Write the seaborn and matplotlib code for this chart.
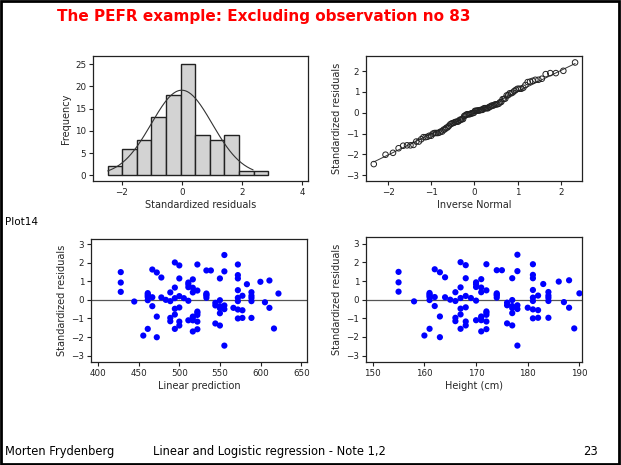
import numpy as np
import pandas as pd
import matplotlib
matplotlib.use("Agg")
import matplotlib.pyplot as plt
import seaborn as sns
from statistics import NormalDist

# Histogram of standardized residuals (bin edges and counts)
bin_edges = [-2.46, -1.975, -1.49, -1.005, -0.52, -0.035, 0.45, 0.935, 1.42, 1.905, 2.39, 2.875]
bin_counts = [2, 6, 8, 13, 18, 25, 9, 8, 9, 1, 1]

# Heights and the fitted linear prediction for each height
height_levels = [155, 158, 160, 161, 162, 163, 164, 165, 166, 167, 168, 169, 170, 171, 172,
                 174, 175, 176, 177, 178, 180, 181, 182, 183, 184, 186, 187, 188, 189, 190]
linpred_levels = [428.0, 444.6, 455.7, 461.2, 466.8, 472.3, 477.9, 483.4, 488.9, 494.5, 500.0,
                  505.6, 511.1, 516.6, 522.2, 533.3, 538.8, 544.3, 549.9, 555.4, 566.5, 572.0,
                  577.6, 583.1, 588.7, 599.7, 605.3, 610.8, 616.4, 621.9]

# Standardized residuals, per height
resid_levels = [
    [1.49, 0.93, 0.43],
    [-0.09],
    [-1.92],
    [0.36, 0.29, 0.22, 0.14, -0.02, -1.56],
    [1.63, 0.14, -0.34],
    [1.47, -0.90, -2.01],
    [1.20, 0.13],
    [0.00],
    [0.40, -0.07, -0.97, -1.15],
    [2.01, 0.66, 0.09, -0.48, -0.79, -1.56],
    [1.85, 1.15, 0.20, -0.41, -1.17, -1.38],
    [0.09],
    [0.93, 0.83, 0.68, -0.05, -1.10],
    [1.10, 0.65, 0.40, -0.90, -0.95, -1.10, -1.70],
    [1.90, 0.50, -0.63, -0.70, -0.81, -1.17, -1.58],
    [1.58, 0.34, 0.28, 0.22, 0.11],
    [1.58],
    [-0.16, -0.30, -1.27],
    [1.15, -0.02, -0.34, -0.45, -0.72, -1.38],
    [2.41, 1.53, -0.30, -0.50, -2.46],
    [-0.43],
    [1.90, 1.33, 1.15, 0.52, 0.11, -0.07, -0.52, -1.00],
    [0.22, -0.56, -0.97],
    [0.84],
    [0.41, 0.22, 0.10, -0.07, -0.97],
    [0.97],
    [-0.13],
    [1.04, -0.43],
    [-1.54],
    [0.34],
]

rows = []
for h, p, rs in zip(height_levels, linpred_levels, resid_levels):
    for r in rs:
        rows.append({"height": h, "linpred": p, "resid": r})
df = pd.DataFrame(rows)

sns.set_style("white")
plt.rcParams["font.family"] = ["DejaVu Sans"]
plt.rcParams["text.color"] = "#333333"

W, H = 621, 465
fig = plt.figure(figsize=(W / 100, H / 100), dpi=100)

def ax_px(x0, y0, x1, y1):
    return fig.add_axes([x0 / W, 1 - y1 / H, (x1 - x0) / W, (y1 - y0) / H])

def style(ax):
    for s in ax.spines.values():
        s.set_linewidth(0.9)
        s.set_color("#222222")
    ax.tick_params(axis="both", which="both", direction="out", length=3, width=0.8,
                   labelsize=6.3, pad=2, left=True, bottom=True, colors="#222222")
    ax.xaxis.label.set_size(7)
    ax.yaxis.label.set_size(7)
    ax.xaxis.labelpad = 2
    ax.yaxis.labelpad = 3

# --- histogram ---
ax1 = ax_px(93, 56, 308, 181)
centers = [(a + b) / 2 for a, b in zip(bin_edges[:-1], bin_edges[1:])]
sns.histplot(x=centers, weights=bin_counts, bins=bin_edges, ax=ax1,
             color="#d3d3d3", edgecolor="#222222", linewidth=1.0, alpha=1)
mu, sd = df["resid"].mean(), df["resid"].std()
bw = bin_edges[1] - bin_edges[0]
xs = np.linspace(bin_edges[0], bin_edges[-1] - 0.5, 200)
ys = len(df) * bw * np.exp(-0.5 * ((xs - mu) / sd) ** 2) / (sd * np.sqrt(2 * np.pi))
sns.lineplot(x=xs, y=ys, ax=ax1, color="#333333", linewidth=0.8)
ax1.set_xlim(-2.95, 4.2)
ax1.set_ylim(-1.27, 26.8)
ax1.set_xticks([-2, 0, 2, 4])
ax1.set_yticks([0, 5, 10, 15, 20, 25])
ax1.set_xlabel("Standardized residuals")
ax1.set_ylabel("Frequency")
style(ax1)

# --- normal quantile plot ---
ax2 = ax_px(366, 56, 582, 181)
sorted_r = np.sort(df["resid"].values)
n = len(sorted_r)
qn = [NormalDist().inv_cdf(i / (n + 1)) for i in range(1, n + 1)]
line_x = np.array([qn[0], qn[-1]])
sns.lineplot(x=line_x, y=mu + sd * line_x, ax=ax2, color="#333333", linewidth=0.7)
ax2.scatter(qn, sorted_r, s=16, facecolors="none", edgecolors="#222222", linewidths=0.7, zorder=3)
ax2.set_xlim(-2.51, 2.49)
ax2.set_ylim(-3.27, 2.72)
ax2.set_xticks([-2, -1, 0, 1, 2])
ax2.set_yticks([-3, -2, -1, 0, 1, 2])
ax2.set_xlabel("Inverse Normal")
ax2.set_ylabel("Standardized residuals")
style(ax2)

# --- residuals vs linear prediction ---
ax3 = ax_px(91, 239, 307, 362)
ax3.axhline(0, color="#555555", linewidth=0.9, zorder=1)
sns.scatterplot(data=df, x="linpred", y="resid", ax=ax3, color="#0000ff",
                s=20, edgecolor="none", zorder=3)
ax3.set_xlim(391.4, 657)
ax3.set_ylim(-3.34, 3.27)
ax3.set_xticks([400, 450, 500, 550, 600, 650])
ax3.set_yticks([-3, -2, -1, 0, 1, 2, 3])
ax3.set_xlabel("Linear prediction")
ax3.set_ylabel("Standardized residuals")
style(ax3)

# --- residuals vs height ---
ax4 = ax_px(366, 237, 582, 362)
ax4.axhline(0, color="#555555", linewidth=0.9, zorder=1)
sns.scatterplot(data=df, x="height", y="resid", ax=ax4, color="#0000ff",
                s=20, edgecolor="none", zorder=3)
ax4.set_xlim(148.7, 190.5)
ax4.set_ylim(-3.34, 3.36)
ax4.set_xticks([150, 160, 170, 180, 190])
ax4.set_yticks([-3, -2, -1, 0, 1, 2, 3])
ax4.set_xlabel("Height (cm)")
ax4.set_ylabel("Standardized residuals")
style(ax4)

# slide texts
fig.text(264 / W, 1 - 17 / H, "The PEFR example: Excluding observation no 83",
         color="#ff0000", fontsize=11, fontweight="bold", ha="center", va="center")
fig.text(5 / W, 1 - 222 / H, "Plot14", color="#000000", fontsize=7.5, ha="left", va="center")
fig.text(5 / W, 1 - 451 / H, "Morten Frydenberg", color="#000000", fontsize=8.3, ha="left", va="center")
fig.text(153 / W, 1 - 451 / H, "Linear and Logistic regression - Note 1,2", color="#000000",
         fontsize=8.3, ha="left", va="center")
fig.text(590 / W, 1 - 451 / H, "23", color="#000000", fontsize=8.3, ha="center", va="center")

# slide border
fig.patches.append(plt.Rectangle((0.002, 0.003), 0.994, 0.994, transform=fig.transFigure,
                                 fill=False, edgecolor="black", linewidth=2))

fig.savefig("out.png", dpi=100)
